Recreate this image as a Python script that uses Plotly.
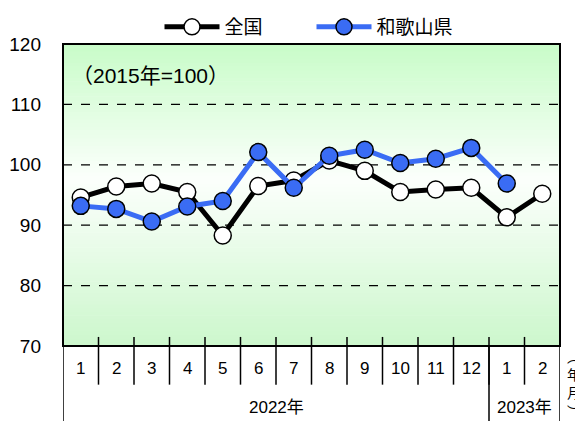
import plotly.graph_objects as go

months = ["1", "2", "3", "4", "5", "6", "7", "8", "9", "10", "11", "12", "1", "2"]
years = ["2022年", "2023年"]
year_spans = [(0, 11), (12, 13)]
zenkoku = [94.6, 96.4, 96.9, 95.5, 88.3, 96.5, 97.4, 100.7, 99.0, 95.5, 95.9, 96.2, 91.3, 95.2]
wakayama = [93.2, 92.7, 90.6, 93.1, 94.0, 102.1, 96.2, 101.5, 102.5, 100.3, 101.0, 102.8, 96.9, None]
yticks = [70, 80, 90, 100, 110, 120]

x = list(range(len(months)))
fig = go.Figure()
fig.add_trace(go.Scatter(
    x=x, y=zenkoku, name="全国", mode="lines+markers",
    line=dict(color="black", width=5),
    marker=dict(size=17, color="white", line=dict(color="black", width=1.5)),
))
fig.add_trace(go.Scatter(
    x=x, y=wakayama, name="和歌山県", mode="lines+markers",
    line=dict(color="#3a6cf4", width=5),
    marker=dict(size=17, color="#3a6cf4", line=dict(color="black", width=1.5)),
))

shapes = []
# gradient background
N = 80
top = (200, 252, 200)
mid = (252, 255, 252)
bot = (204, 247, 204)
m = 0.55
for i in range(N):
    y0 = i / N
    y1 = (i + 1) / N
    c = (y0 + y1) / 2
    if c > m:
        t = (c - m) / (1 - m)
        col = tuple(round(mid[k] + (top[k] - mid[k]) * t) for k in range(3))
    else:
        t = (m - c) / m
        col = tuple(round(mid[k] + (bot[k] - mid[k]) * t) for k in range(3))
    shapes.append(dict(type="rect", xref="paper", yref="paper", x0=0, x1=1, y0=y0, y1=y1 + 0.002,
                       fillcolor="rgb(%d,%d,%d)" % col, line=dict(width=0), layer="below"))

# gridlines
for v in yticks[1:-1]:
    shapes.append(dict(type="line", xref="paper", yref="y", x0=0, x1=1, y0=v, y1=v,
                       line=dict(color="black", width=1.3, dash="dash"), layer="below"))

# month separators
for i in range(len(months) - 1):
    shapes.append(dict(type="line", xref="x", yref="paper", x0=i + 0.5, x1=i + 0.5, y0=-0.128, y1=0.03,
                       line=dict(color="black", width=1.5)))
# year separators
bounds = [-0.5] + [e + 0.5 for s, e in year_spans]
for b in bounds:
    shapes.append(dict(type="line", xref="x", yref="paper", x0=b, x1=b, y0=-0.26, y1=0,
                       line=dict(color="black", width=1.5)))

# plot border
shapes.append(dict(type="rect", xref="paper", yref="paper", x0=0, x1=1, y0=0, y1=1,
                   line=dict(color="black", width=2), layer="above"))

annotations = []
for i, mth in enumerate(months):
    annotations.append(dict(x=i, y=-0.073, xref="x", yref="paper", text=mth, showarrow=False,
                            yanchor="middle",
                            font=dict(family="Liberation Sans, Arial", size=17, color="black")))
for yr, (s, e) in zip(years, year_spans):
    annotations.append(dict(x=(s + e) / 2, y=-0.202, xref="x", yref="paper", text=yr, showarrow=False,
                            yanchor="middle",
                            font=dict(family="Liberation Sans, Noto Sans CJK JP", size=17, color="black")))
annotations.append(dict(x=0.014, y=0.897, xref="paper", yref="paper", xanchor="left", yanchor="middle",
                        text="（2015年=100）", showarrow=False,
                        font=dict(family="Liberation Sans, Noto Sans CJK JP", size=21, color="black")))
annotations.append(dict(x=1.01, y=-0.125, xref="paper", yref="paper", xanchor="left", yanchor="middle",
                        text="︵<br>年<br>月<br>︶", showarrow=False,
                        font=dict(family="Noto Sans CJK JP", size=14, color="black")))

fig.update_layout(
    width=575, height=413,
    margin=dict(l=55, r=23, t=36, b=75, autoexpand=False),
    paper_bgcolor="white", plot_bgcolor="rgba(0,0,0,0)",
    showlegend=True,
    legend=dict(orientation="h", x=0.5, xanchor="center", yref="container", y=1.0, yanchor="top",
                font=dict(family="Noto Sans CJK JP", size=19, color="black"),
                itemwidth=55, entrywidth=82, bgcolor="rgba(0,0,0,0)"),
    shapes=shapes, annotations=annotations,
    xaxis=dict(range=[-0.5, len(months) - 0.5], showticklabels=False, showgrid=False, zeroline=False,
               ticks="", fixedrange=True, automargin=False),
    yaxis=dict(range=[70, 120], tickvals=yticks, showgrid=False, zeroline=False, ticks="",
               ticklabelstandoff=21, automargin=False,
               tickfont=dict(family="Liberation Sans, Arial", size=19, color="black")),
)
fig.write_html("out.html")
